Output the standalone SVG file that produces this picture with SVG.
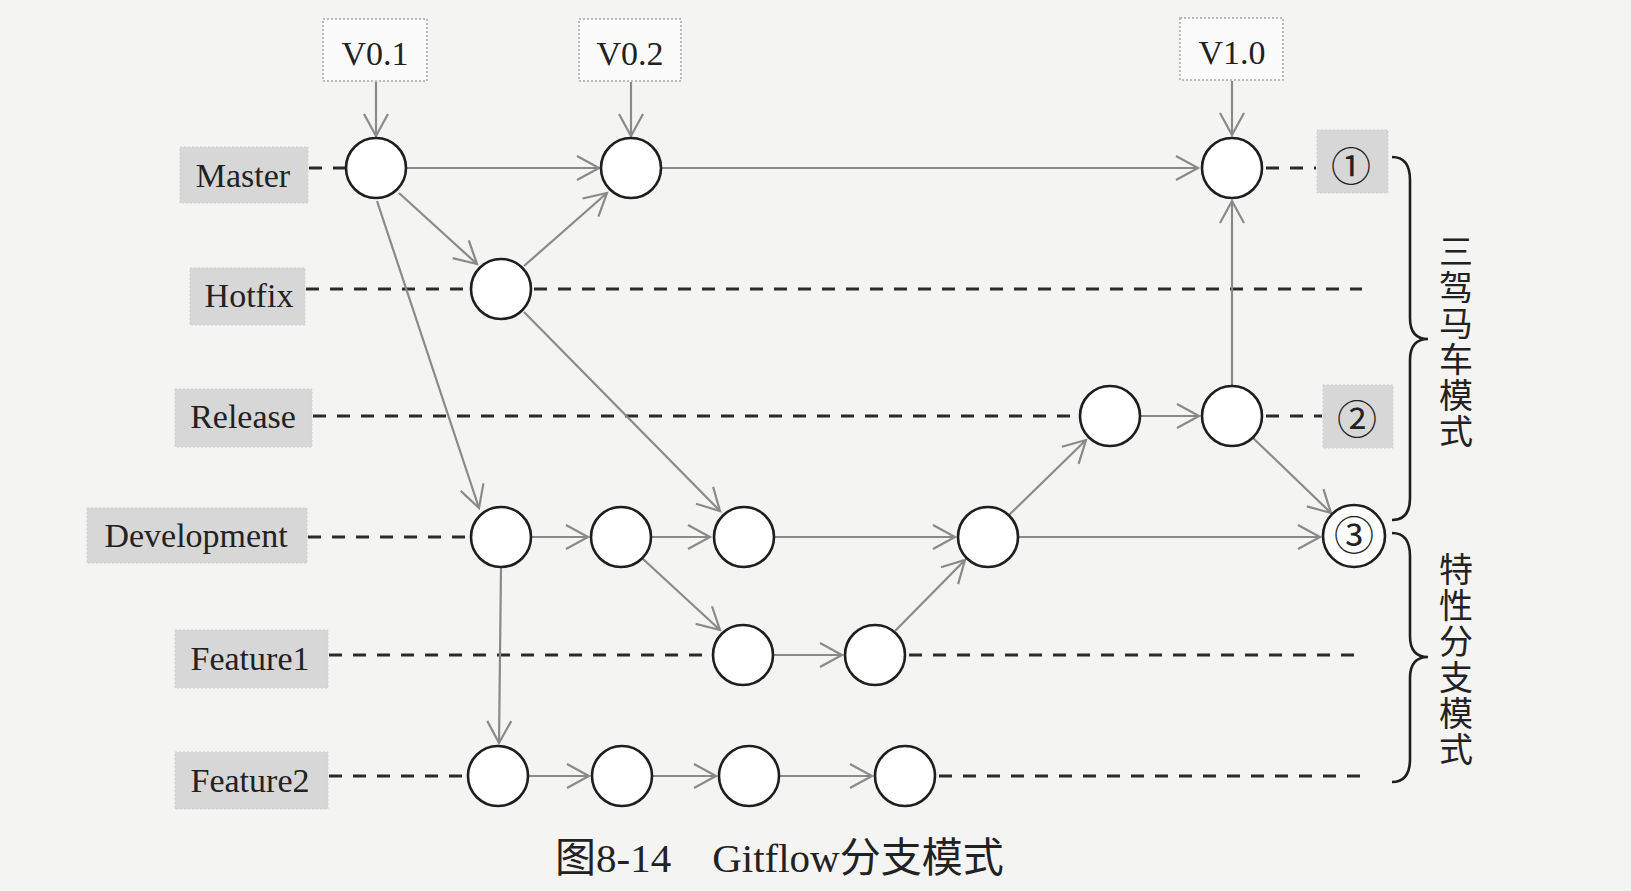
<svg xmlns="http://www.w3.org/2000/svg" width="1631" height="891" viewBox="0 0 1631 891">
<style>
.bg{fill:#f4f4f3}
.lbl{fill:#d7d7d7;stroke:#cfcfcf;stroke-width:1;stroke-dasharray:2 2}
.ver{fill:#fbfbfb;stroke:#a8a8a8;stroke-width:1.5;stroke-dasharray:2 2}
.t{font-family:"Liberation Serif","Times New Roman",serif;font-size:34px;fill:#222;text-anchor:middle}
.cj{font-family:"Liberation Serif","Noto Sans CJK SC",serif;font-size:34px;fill:#222;text-anchor:middle}
.num{font-family:"Noto Sans CJK SC","DejaVu Sans",sans-serif;font-size:40px;fill:#222;text-anchor:middle}
.cap{font-family:"Liberation Serif","Noto Sans CJK SC",serif;font-size:41px;fill:#222}
.c{fill:#fff;stroke:#1e1e1e;stroke-width:2.6}
.d{stroke:#2a2a2a;stroke-width:2.8;stroke-dasharray:13 11;fill:none}
.a{stroke:#8a8a8a;stroke-width:2.2;fill:none;marker-end:url(#ah)}
.br{stroke:#1e1e1e;stroke-width:2.6;fill:none}
</style>
<defs>
<marker id="ah" markerUnits="userSpaceOnUse" viewBox="-2 -2 28 30" refX="22" refY="12" markerWidth="28" markerHeight="30" orient="auto">
<path d="M0,0 L22,12 L0,24" fill="none" stroke="#8a8a8a" stroke-width="2.2"/>
</marker>
</defs>
<rect class="bg" x="0" y="0" width="1631" height="891"/>

<g id="branch-lines">
<line class="d" x1="309" y1="168" x2="345" y2="168"/>
<line class="d" x1="1266" y1="168" x2="1316" y2="168"/>
<line class="d" x1="306" y1="289" x2="470" y2="289"/>
<line class="d" x1="534" y1="289" x2="1362" y2="289"/>
<line class="d" x1="313" y1="416" x2="1079" y2="416"/>
<line class="d" x1="1266" y1="416" x2="1322" y2="416"/>
<line class="d" x1="308" y1="537" x2="470" y2="537"/>
<line class="d" x1="329" y1="655" x2="712" y2="655"/>
<line class="d" x1="909" y1="655" x2="1360" y2="655"/>
<line class="d" x1="329" y1="776" x2="467" y2="776"/>
<line class="d" x1="939" y1="776" x2="1362" y2="776"/>
</g>

<g id="connectors">
<line class="a" x1="376" y1="82" x2="376" y2="136"/>
<line class="a" x1="631" y1="82" x2="631" y2="136"/>
<line class="a" x1="1232" y1="81" x2="1232" y2="135"/>
<line class="a" x1="407" y1="168" x2="599" y2="168"/>
<line class="a" x1="662" y1="168" x2="1198" y2="168"/>
<line class="a" x1="399" y1="193" x2="477" y2="264"/>
<line class="a" x1="377" y1="201" x2="479" y2="508"/>
<line class="a" x1="524" y1="266" x2="607" y2="193"/>
<line class="a" x1="524" y1="312" x2="720" y2="511"/>
<line class="a" x1="532" y1="537" x2="588" y2="537"/>
<line class="a" x1="652" y1="537" x2="710" y2="537"/>
<line class="a" x1="775" y1="537" x2="955" y2="537"/>
<line class="a" x1="643" y1="559" x2="720" y2="630"/>
<line class="a" x1="774" y1="655" x2="842" y2="655"/>
<line class="a" x1="895" y1="631" x2="965" y2="560"/>
<line class="a" x1="1009" y1="515" x2="1086" y2="440"/>
<line class="a" x1="1019" y1="537" x2="1320" y2="537"/>
<line class="a" x1="1141" y1="416" x2="1199" y2="416"/>
<line class="a" x1="1232" y1="385" x2="1232" y2="201"/>
<line class="a" x1="1253" y1="438" x2="1331" y2="513"/>
<line class="a" x1="501" y1="568" x2="499" y2="743"/>
<line class="a" x1="529" y1="776" x2="589" y2="776"/>
<line class="a" x1="653" y1="776" x2="716" y2="776"/>
<line class="a" x1="780" y1="776" x2="872" y2="776"/>
</g>

<g id="version-V0.1"><rect class="ver" x="323" y="19" width="104" height="62"/><text class="t" x="375" y="65">V0.1</text></g>
<g id="version-V0.2"><rect class="ver" x="579" y="19" width="102" height="62"/><text class="t" x="630" y="65">V0.2</text></g>
<g id="version-V1.0"><rect class="ver" x="1180" y="18" width="103" height="62"/><text class="t" x="1232" y="64">V1.0</text></g>

<g id="label-master"><rect class="lbl" x="180" y="147" width="128" height="56"/><text class="t" x="243" y="187">Master</text></g>
<g id="label-hotfix"><rect class="lbl" x="190" y="268" width="115" height="57"/><text class="t" x="249" y="307">Hotfix</text></g>
<g id="label-release"><rect class="lbl" x="175" y="389" width="137" height="58"/><text class="t" x="243" y="428">Release</text></g>
<g id="label-development"><rect class="lbl" x="87" y="508" width="220" height="55"/><text class="t" x="196" y="547">Development</text></g>
<g id="label-feature1"><rect class="lbl" x="175" y="630" width="153" height="58"/><text class="t" x="250" y="670">Feature1</text></g>
<g id="label-feature2"><rect class="lbl" x="175" y="752" width="153" height="57"/><text class="t" x="250" y="792">Feature2</text></g>

<g id="master-c1"><circle class="c" cx="376" cy="168" r="30"/></g>
<g id="master-c2"><circle class="c" cx="631" cy="168" r="30"/></g>
<g id="master-c3"><circle class="c" cx="1232" cy="168" r="30"/></g>
<g id="hotfix-c1"><circle class="c" cx="501" cy="289" r="30"/></g>
<g id="release-c1"><circle class="c" cx="1110" cy="416" r="30"/></g>
<g id="release-c2"><circle class="c" cx="1232" cy="416" r="30"/></g>
<g id="dev-c1"><circle class="c" cx="501" cy="537" r="30"/></g>
<g id="dev-c2"><circle class="c" cx="621" cy="537" r="30"/></g>
<g id="dev-c3"><circle class="c" cx="744" cy="537" r="30"/></g>
<g id="dev-c4"><circle class="c" cx="988" cy="537" r="30"/></g>
<g id="feature1-c1"><circle class="c" cx="743" cy="655" r="30"/></g>
<g id="feature1-c2"><circle class="c" cx="875" cy="655" r="30"/></g>
<g id="feature2-c1"><circle class="c" cx="498" cy="776" r="30"/></g>
<g id="feature2-c2"><circle class="c" cx="622" cy="776" r="30"/></g>
<g id="feature2-c3"><circle class="c" cx="749" cy="776" r="30"/></g>
<g id="feature2-c4"><circle class="c" cx="905" cy="776" r="30"/></g>

<g id="marker-1"><rect class="lbl" x="1317" y="130" width="71" height="63"/><text class="num" x="1351" y="181">①</text></g>
<g id="marker-2"><rect class="lbl" x="1323" y="385" width="70" height="63"/><text class="num" x="1357" y="434">②</text></g>
<g id="marker-3"><circle class="c" cx="1354" cy="536" r="31"/><text class="num" x="1354" y="550">③</text></g>

<g id="brace-three">
<path class="br" d="M1392,157 Q1410,157 1410,180 L1410,318 Q1410,339 1428,339 Q1410,339 1410,360 L1410,498 Q1410,520 1392,520"/>
<text class="cj"><tspan x="1456" y="264">三</tspan><tspan x="1456" y="300">驾</tspan><tspan x="1456" y="336">马</tspan><tspan x="1456" y="372">车</tspan><tspan x="1456" y="408">模</tspan><tspan x="1456" y="444">式</tspan></text>
</g>
<g id="brace-feature">
<path class="br" d="M1392,533 Q1410,533 1410,556 L1410,636 Q1410,657 1428,657 Q1410,657 1410,678 L1410,759 Q1410,782 1392,782"/>
<text class="cj"><tspan x="1456" y="582">特</tspan><tspan x="1456" y="618">性</tspan><tspan x="1456" y="654">分</tspan><tspan x="1456" y="690">支</tspan><tspan x="1456" y="726">模</tspan><tspan x="1456" y="762">式</tspan></text>
</g>

<text id="caption" class="cap" x="555" y="872">图8-14　Gitflow分支模式</text>
</svg>
